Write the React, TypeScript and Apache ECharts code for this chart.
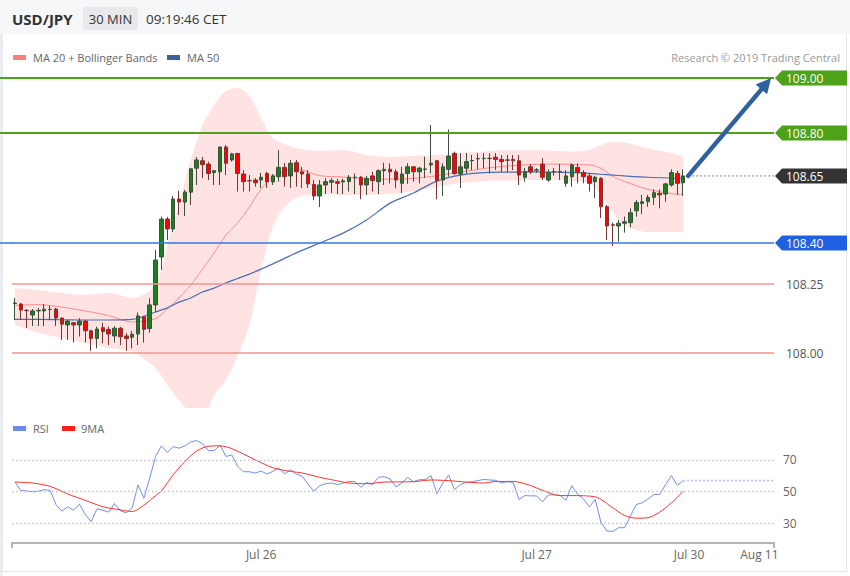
import React, { useEffect, useRef } from 'react';
import * as echarts from 'echarts';

const FONT = '"Open Sans", "DejaVu Sans", sans-serif';
const SLOT_COUNT = 130; // 30-minute slots shown on the time axis

// [open, close, low, high]
const ohlc: number[][] = [
  [108.180, 108.182, 108.120, 108.200], [108.178, 108.156, 108.120, 108.182], [108.155, 108.154, 108.091, 108.160],
  [108.138, 108.153, 108.098, 108.160], [108.153, 108.155, 108.098, 108.164], [108.153, 108.159, 108.098, 108.178],
  [108.158, 108.159, 108.120, 108.171], [108.160, 108.127, 108.098, 108.164], [108.127, 108.105, 108.047, 108.129],
  [108.102, 108.116, 108.047, 108.120], [108.110, 108.102, 108.038, 108.113], [108.102, 108.116, 108.060, 108.127],
  [108.116, 108.081, 108.038, 108.120], [108.081, 108.053, 108.008, 108.084], [108.053, 108.087, 108.017, 108.096],
  [108.092, 108.078, 108.035, 108.110], [108.086, 108.069, 108.029, 108.096], [108.062, 108.090, 108.038, 108.098],
  [108.090, 108.059, 108.029, 108.095], [108.062, 108.053, 108.008, 108.072], [108.057, 108.068, 108.017, 108.080],
  [108.069, 108.135, 108.029, 108.147], [108.132, 108.086, 108.038, 108.135], [108.089, 108.175, 108.074, 108.199],
  [108.175, 108.338, 108.149, 108.375], [108.349, 108.487, 108.302, 108.496], [108.487, 108.451, 108.411, 108.495],
  [108.451, 108.560, 108.440, 108.571], [108.560, 108.549, 108.502, 108.590], [108.549, 108.585, 108.498, 108.593],
  [108.585, 108.670, 108.538, 108.671], [108.672, 108.702, 108.611, 108.713], [108.699, 108.685, 108.636, 108.713],
  [108.687, 108.653, 108.629, 108.696], [108.656, 108.663, 108.611, 108.665], [108.659, 108.749, 108.611, 108.750],
  [108.749, 108.690, 108.647, 108.756], [108.702, 108.724, 108.696, 108.728], [108.726, 108.653, 108.587, 108.727],
  [108.651, 108.623, 108.587, 108.665], [108.627, 108.626, 108.587, 108.647], [108.629, 108.619, 108.605, 108.636],
  [108.629, 108.639, 108.600, 108.655], [108.653, 108.622, 108.600, 108.659], [108.622, 108.644, 108.611, 108.651],
  [108.641, 108.675, 108.623, 108.738], [108.675, 108.641, 108.605, 108.691], [108.644, 108.690, 108.600, 108.702],
  [108.692, 108.659, 108.605, 108.702], [108.659, 108.651, 108.600, 108.677], [108.651, 108.615, 108.600, 108.665],
  [108.613, 108.571, 108.556, 108.629], [108.571, 108.611, 108.531, 108.629], [108.611, 108.623, 108.578, 108.636],
  [108.621, 108.627, 108.582, 108.636], [108.623, 108.617, 108.578, 108.633], [108.622, 108.626, 108.578, 108.634],
  [108.623, 108.639, 108.587, 108.647], [108.638, 108.639, 108.578, 108.653], [108.639, 108.611, 108.559, 108.644],
  [108.611, 108.635, 108.575, 108.644], [108.644, 108.627, 108.587, 108.659], [108.623, 108.663, 108.578, 108.668],
  [108.663, 108.668, 108.611, 108.692], [108.668, 108.659, 108.617, 108.690], [108.659, 108.629, 108.599, 108.668],
  [108.617, 108.651, 108.582, 108.677], [108.653, 108.677, 108.615, 108.690], [108.677, 108.659, 108.623, 108.680],
  [108.659, 108.672, 108.617, 108.677], [108.668, 108.669, 108.636, 108.714], [108.684, 108.690, 108.653, 108.829],
  [108.699, 108.627, 108.559, 108.702], [108.629, 108.677, 108.571, 108.690], [108.668, 108.716, 108.641, 108.813],
  [108.726, 108.653, 108.647, 108.732], [108.651, 108.677, 108.600, 108.727], [108.672, 108.696, 108.653, 108.727],
  [108.699, 108.700, 108.665, 108.720], [108.706, 108.707, 108.668, 108.727], [108.707, 108.708, 108.672, 108.727],
  [108.708, 108.707, 108.653, 108.726], [108.712, 108.704, 108.665, 108.727], [108.704, 108.696, 108.658, 108.720],
  [108.702, 108.701, 108.658, 108.720], [108.704, 108.699, 108.665, 108.720], [108.699, 108.647, 108.611, 108.720],
  [108.639, 108.659, 108.623, 108.673], [108.677, 108.659, 108.651, 108.687], [108.665, 108.666, 108.655, 108.672],
  [108.687, 108.639, 108.629, 108.708], [108.629, 108.656, 108.623, 108.668], [108.659, 108.660, 108.645, 108.673],
  [108.660, 108.659, 108.629, 108.687], [108.617, 108.644, 108.605, 108.665], [108.641, 108.684, 108.605, 108.690],
  [108.675, 108.656, 108.617, 108.690], [108.656, 108.641, 108.617, 108.665], [108.644, 108.617, 108.587, 108.653],
  [108.623, 108.639, 108.563, 108.644], [108.635, 108.532, 108.491, 108.640], [108.532, 108.462, 108.411, 108.538],
  [108.466, 108.465, 108.389, 108.474], [108.462, 108.472, 108.405, 108.484], [108.472, 108.477, 108.438, 108.496],
  [108.474, 108.510, 108.457, 108.526], [108.517, 108.547, 108.496, 108.556], [108.544, 108.550, 108.505, 108.575],
  [108.550, 108.566, 108.532, 108.575], [108.566, 108.583, 108.538, 108.595], [108.581, 108.575, 108.526, 108.595],
  [108.578, 108.615, 108.550, 108.619], [108.611, 108.656, 108.605, 108.668], [108.653, 108.617, 108.575, 108.663],
  [108.619, 108.644, 108.571, 108.668],
];

// indicator readings (bar index at which each reading was taken)
const indIdx = [0, 4, 8, 12, 16, 20, 24, 26, 28, 30, 32, 34, 36, 38, 40, 42, 44, 46, 48, 52, 56, 60, 64, 68, 72, 76, 80, 84, 88, 92, 96, 98, 100, 102, 104, 108, 112, 114];
const ma20 = [108.173, 108.176, 108.167, 108.153, 108.136, 108.113, 108.125, 108.160, 108.200, 108.247, 108.305, 108.364, 108.429, 108.473, 108.531, 108.596, 108.640, 108.660, 108.669, 108.645, 108.640, 108.633, 108.632, 108.635, 108.645, 108.658, 108.671, 108.680, 108.685, 108.687, 108.685, 108.684, 108.671, 108.642, 108.624, 108.595, 108.580, 108.576];
const bbUpper = [108.236, 108.229, 108.218, 108.211, 108.218, 108.200, 108.247, 108.393, 108.545, 108.702, 108.829, 108.902, 108.953, 108.964, 108.935, 108.855, 108.782, 108.760, 108.745, 108.735, 108.738, 108.720, 108.713, 108.716, 108.720, 108.727, 108.733, 108.738, 108.738, 108.735, 108.733, 108.738, 108.756, 108.767, 108.765, 108.745, 108.727, 108.716];
const bbLower = [108.102, 108.073, 108.055, 108.036, 108.018, 108.004, 107.945, 107.884, 107.829, 107.780, 107.770, 107.847, 107.902, 107.990, 108.102, 108.302, 108.460, 108.531, 108.564, 108.578, 108.575, 108.575, 108.578, 108.589, 108.604, 108.618, 108.625, 108.627, 108.629, 108.629, 108.625, 108.618, 108.575, 108.513, 108.465, 108.440, 108.440, 108.441];
const ma50 = [108.122, 108.122, 108.121, 108.120, 108.120, 108.122, 108.149, 108.164, 108.185, 108.200, 108.222, 108.236, 108.255, 108.271, 108.287, 108.305, 108.324, 108.344, 108.364, 108.400, 108.436, 108.484, 108.545, 108.582, 108.625, 108.647, 108.656, 108.658, 108.659, 108.658, 108.656, 108.653, 108.650, 108.647, 108.644, 108.639, 108.636, 108.635];

const rsi = [
  56, 50.8, 50.4, 50, 50.2, 51.25, 50.8, 41.9, 37.7, 40.4,
  38.3, 42.1, 35.6, 31, 39.2, 38.3, 37.1, 42.5, 37.9, 36.7,
  39.8, 54.2, 45.8, 58.6, 72.1, 78.75, 74.6, 78.3, 77.3, 78.75,
  81.25, 82.1, 80, 75.8, 75.8, 79.2, 72.1, 73.1, 65.8, 62.5,
  62.5, 61.7, 62.9, 61.1, 62.7, 64.8, 61.1, 63.75, 61.1, 59.6,
  54.8, 50.2, 53.75, 55, 55.4, 54.4, 55.4, 56.4, 56.4, 52.7,
  55.8, 54.4, 59, 59.4, 58, 53, 55.4, 58.9, 56.25, 57.5,
  57.5, 60, 48.75, 55.4, 60.4, 51.25, 54.4, 55.8, 56.25, 56.9,
  57.7, 57.3, 57.1, 55.4, 56.25, 55.8, 45, 47.5, 47.3, 47.3,
  43.6, 47.9, 47.9, 47.7, 44.6, 53.75, 48.3, 45.4, 40.4, 45,
  30.4, 25.2, 25, 27.3, 27.3, 34.6, 41.9, 42.9, 45.4, 48.1,
  48.3, 54.4, 60, 53.9, 56.9,
];
const rsiMaIdx = [0, 3, 6, 9, 12, 15, 18, 20, 22, 24, 25, 27, 29, 31, 33, 35, 37, 41, 44, 47, 49, 52, 54, 57, 60, 63, 68, 71, 74, 77, 80, 82, 85, 88, 90, 93, 95, 99, 102, 104, 106, 108, 110, 112, 114];
const rsiMa = [56, 55.4, 53.3, 48.5, 44.5, 40.5, 38.5, 37.5, 41.5, 47.5, 50.5, 60.6, 69, 75.5, 78.5, 78.75, 77, 70, 65, 62.7, 61.7, 59, 57.5, 55.4, 55, 56, 56.25, 57.3, 56.9, 56, 55.4, 56.4, 56.4, 53.75, 50.8, 47.5, 47.5, 46.7, 39.8, 35, 33.3, 33.6, 37.1, 42.9, 50.2];
const rsiLevels = [30, 50, 70];

const dateTickIdx = [42, 89, 115, 127];
const dateTickText = ['Jul 26', 'Jul 27', 'Jul 30', 'Aug 11'];

const levels = [
  { value: 109.0, text: '109.00', line: '#4da21a', width: 2, tag: '#4da21a' },
  { value: 108.8, text: '108.80', line: '#4da21a', width: 2, tag: '#4da21a' },
  { value: 108.4, text: '108.40', line: '#3a74dc', width: 1.5, tag: '#1e62e2' },
  { value: 108.25, text: '108.25', line: '#f39494', width: 1.5, tag: '' },
  { value: 108.0, text: '108.00', line: '#f39494', width: 1.5, tag: '' },
];
const currentText = '108.65';
const targetValue = 109.0;
const targetSlot = 129;

const cats = Array.from({ length: SLOT_COUNT }, (_, i) => String(i));
const pairs = (xs: number[], ys: number[]) => xs.map((x, i) => [x, ys[i]]);

function buildOption(): any {
  return {
    animation: false,
    backgroundColor: '#ffffff',
    textStyle: { fontFamily: FONT },
    grid: [
      { left: 12, right: 76, top: 50.5, height: 357.5 },
      { left: 12, right: 76, top: 428, height: 114.5 },
    ],
    xAxis: [
      { type: 'category', gridIndex: 0, data: cats, boundaryGap: true, show: false },
      { type: 'value', gridIndex: 0, min: -0.5, max: SLOT_COUNT - 0.5, show: false },
      {
        type: 'category', gridIndex: 1, data: cats, boundaryGap: true,
        axisLine: { show: true, lineStyle: { color: '#b5b5b5', width: 2 } },
        axisTick: { show: false },
        splitLine: { show: false },
        axisLabel: {
          interval: (i: number) => dateTickIdx.indexOf(i) >= 0,
          formatter: (v: string) => {
            const k = dateTickIdx.indexOf(Number(v));
            return k >= 0 ? dateTickText[k] : '';
          },
          color: '#666', fontSize: 12, margin: 6, fontFamily: FONT,
        },
      },
      { type: 'value', gridIndex: 1, min: -0.5, max: SLOT_COUNT - 0.5, show: false },
    ],
    yAxis: [
      { type: 'value', gridIndex: 0, min: 107.8, max: 109.1, show: false },
      { type: 'value', gridIndex: 1, min: 18, max: 90, show: false },
    ],
    series: [
      {
        name: 'bbUpper', type: 'line', xAxisIndex: 1, yAxisIndex: 0,
        data: pairs(indIdx, bbUpper), smooth: 0.3, symbol: 'none',
        lineStyle: { opacity: 0 }, areaStyle: { color: '#ffe2e2', opacity: 1, origin: 'start' }, z: 1, silent: true,
      },
      {
        name: 'bbLower', type: 'line', xAxisIndex: 1, yAxisIndex: 0,
        data: pairs(indIdx, bbLower), smooth: 0.3, symbol: 'none',
        lineStyle: { opacity: 0 }, areaStyle: { color: '#ffffff', opacity: 1, origin: 'start' }, z: 1, silent: true,
      },
      {
        name: 'MA 20', type: 'line', xAxisIndex: 1, yAxisIndex: 0,
        data: pairs(indIdx, ma20), smooth: 0.3, symbol: 'none',
        lineStyle: { color: '#ff8c8c', width: 1 }, z: 2, silent: true,
      },
      {
        name: 'MA 50', type: 'line', xAxisIndex: 1, yAxisIndex: 0,
        data: pairs(indIdx, ma50), smooth: 0.3, symbol: 'none',
        lineStyle: { color: '#4a6fb2', width: 1.2 }, z: 2, silent: true,
      },
      {
        name: 'USD/JPY', type: 'candlestick', xAxisIndex: 0, yAxisIndex: 0,
        data: ohlc, barWidth: 4,
        itemStyle: {
          color: '#1e7d1e', color0: '#ff0000',
          borderColor: '#3b4f3b', borderColor0: '#7a3434', borderWidth: 1,
        },
        z: 3, silent: true,
      },
      {
        name: 'levels', type: 'line', xAxisIndex: 0, yAxisIndex: 0,
        data: ohlc.map(() => null), symbol: 'none', z: 5, silent: true,
        markLine: {
          silent: true, symbol: ['none', 'none'], label: { show: false },
          data: levels.map((l) => ({ yAxis: l.value, lineStyle: { color: l.line, width: l.width, type: 'solid' } })),
        },
      },
      {
        name: 'RSI', type: 'line', xAxisIndex: 2, yAxisIndex: 1,
        data: rsi, symbol: 'none', lineStyle: { color: '#6f90e6', width: 1 }, z: 3, silent: true,
        markLine: {
          silent: true, symbol: ['none', 'none'],
          label: { show: true, position: 'end', formatter: '{c}', color: '#666', fontSize: 12, distance: 9, fontFamily: FONT },
          lineStyle: { color: '#c4c4c4', type: [1.5, 2.5], width: 1.4 },
          data: rsiLevels.map((v) => ({ yAxis: v })),
        },
      },
      {
        name: '9MA', type: 'line', xAxisIndex: 3, yAxisIndex: 1,
        data: pairs(rsiMaIdx, rsiMa), smooth: 0.3, symbol: 'none',
        lineStyle: { color: '#ff3333', width: 1 }, z: 4, silent: true,
      },
    ],
  };
}

function buildGraphics(chart: any): any[] {
  const g: any[] = [];
  const txt = (text: string, x: number, y: number, size: number, fill: string, extra: any = {}) => ({
    type: 'text', x, y, z: 20,
    style: { text, fill, fontSize: size, fontFamily: FONT, verticalAlign: 'middle', align: 'left', ...extra },
  });
  // page frame
  g.push({ type: 'rect', z: -5, shape: { x: 0, y: 0, width: 850, height: 34 }, style: { fill: '#f6f7f8' } });
  g.push({ type: 'rect', z: -5, shape: { x: 0, y: 34, width: 3, height: 542 }, style: { fill: '#eaedf1' } });
  g.push({ type: 'line', z: -4, shape: { x1: 846.5, y1: 34, x2: 846.5, y2: 571 }, style: { stroke: '#e4e7eb', lineWidth: 1 } });
  g.push({ type: 'line', z: -4, shape: { x1: 0, y1: 571.5, x2: 847, y2: 571.5 }, style: { stroke: '#e4e7eb', lineWidth: 1 } });
  // header
  g.push(txt('USD/JPY', 12, 19, 15, '#333', { fontWeight: 'bold' }));
  g.push({ type: 'rect', z: 19, shape: { x: 83, y: 7, width: 55, height: 23, r: 2 }, style: { fill: '#e8e9eb' } });
  g.push(txt('30 MIN', 110.5, 19, 13, '#333', { align: 'center' }));
  g.push(txt('09:19:46 CET', 146, 19, 13.5, '#333'));
  // legends
  g.push({ type: 'rect', z: 20, shape: { x: 13, y: 55, width: 13, height: 5 }, style: { fill: '#ff7f7f' } });
  g.push(txt('MA 20 + Bollinger Bands', 33, 57.5, 11, '#666'));
  g.push({ type: 'rect', z: 20, shape: { x: 167, y: 55, width: 13, height: 5 }, style: { fill: '#3b5f9f' } });
  g.push(txt('MA 50', 187, 57.5, 11, '#666'));
  g.push(txt('Research © 2019 Trading Central', 840, 57.5, 11, '#999', { align: 'right' }));
  g.push({ type: 'rect', z: 20, shape: { x: 13, y: 426, width: 13, height: 5 }, style: { fill: '#6a8de6' } });
  g.push(txt('RSI', 33, 428.5, 11, '#666'));
  g.push({ type: 'rect', z: 20, shape: { x: 62, y: 426, width: 13, height: 5 }, style: { fill: '#ff1f1f' } });
  g.push(txt('9MA', 81, 428.5, 11, '#666'));

  const toMain = (slot: number, v: number) => chart.convertToPixel({ xAxisIndex: 0, yAxisIndex: 0 }, [slot, v]);
  const toRsi = (slot: number, v: number) => chart.convertToPixel({ xAxisIndex: 2, yAxisIndex: 1 }, [slot, v]);
  const rightEdge = 850 - 76;

  const tag = (y: number, color: string, text: string) => {
    g.push({
      type: 'polygon', z: 20,
      shape: { points: [[775, y], [782, y - 7.5], [847, y - 7.5], [847, y + 7.5], [782, y + 7.5]] },
      style: { fill: color },
    });
    g.push(txt(text, 786, y + 0.5, 12, '#fff'));
  };
  levels.forEach((l) => {
    const [, y] = toMain(0, l.value);
    if (l.tag) {
      // tagged levels run to the left edge of the card
      g.push({ type: 'line', z: 15, shape: { x1: 0, y1: y, x2: 13, y2: y }, style: { stroke: l.line, lineWidth: l.width } });
      tag(y, l.tag, l.text);
    } else {
      g.push(txt(l.text, 786, y + 0.5, 12, '#555'));
    }
  });

  // current price
  const lastIdx = ohlc.length - 1;
  const lastClose = ohlc[lastIdx][1];
  const [lx, ly] = toMain(lastIdx, lastClose);
  g.push({ type: 'line', z: 15, shape: { x1: lx + 5, y1: ly, x2: rightEdge + 1, y2: ly }, style: { stroke: '#aeb7cf', lineWidth: 1.6, lineDash: [2, 2] } });
  tag(ly, '#333333', currentText);

  // target arrow
  const [tx, ty] = toMain(targetSlot, targetValue);
  const sx = lx + 5, sy = ly;
  const dx = tx - sx, dy = ty - sy;
  const len = Math.sqrt(dx * dx + dy * dy);
  const ux = dx / len, uy = dy / len;
  const head = 15, half = 7.5;
  const bx = tx - ux * head, by = ty - uy * head;
  g.push({ type: 'line', z: 16, shape: { x1: sx, y1: sy, x2: bx + ux * 2, y2: by + uy * 2 }, style: { stroke: '#2f60a0', lineWidth: 4.5, lineCap: 'round' } });
  g.push({
    type: 'polygon', z: 16,
    shape: { points: [[tx, ty], [bx - uy * half, by + ux * half], [bx + uy * half, by - ux * half]] },
    style: { fill: '#2f60a0' },
  });

  // RSI continuation
  const lastRsi = rsi[rsi.length - 1];
  const [rx, ry] = toRsi(rsi.length - 1, lastRsi);
  g.push({ type: 'line', z: 15, shape: { x1: rx, y1: ry, x2: rightEdge + 1, y2: ry }, style: { stroke: '#b7c5ee', lineWidth: 1.6, lineDash: [2, 2] } });

  // axis end ticks
  g.push({ type: 'line', z: 15, shape: { x1: 12, y1: 542, x2: 12, y2: 548 }, style: { stroke: '#b5b5b5', lineWidth: 2 } });
  g.push({ type: 'line', z: 15, shape: { x1: rightEdge, y1: 542, x2: rightEdge, y2: 548 }, style: { stroke: '#b5b5b5', lineWidth: 2 } });
  return g;
}

export default function App() {
  const ref = useRef<HTMLDivElement>(null);
  useEffect(() => {
    const el = ref.current;
    if (!el) return;
    const chart = echarts.init(el, null, { renderer: 'svg', width: 850, height: 576 });
    chart.setOption(buildOption());
    chart.setOption({ graphic: buildGraphics(chart) });
    return () => chart.dispose();
  }, []);
  return <div ref={ref} style={{ position: 'fixed', left: 0, top: 0, width: 850, height: 576, background: '#fff' }} />;
}
